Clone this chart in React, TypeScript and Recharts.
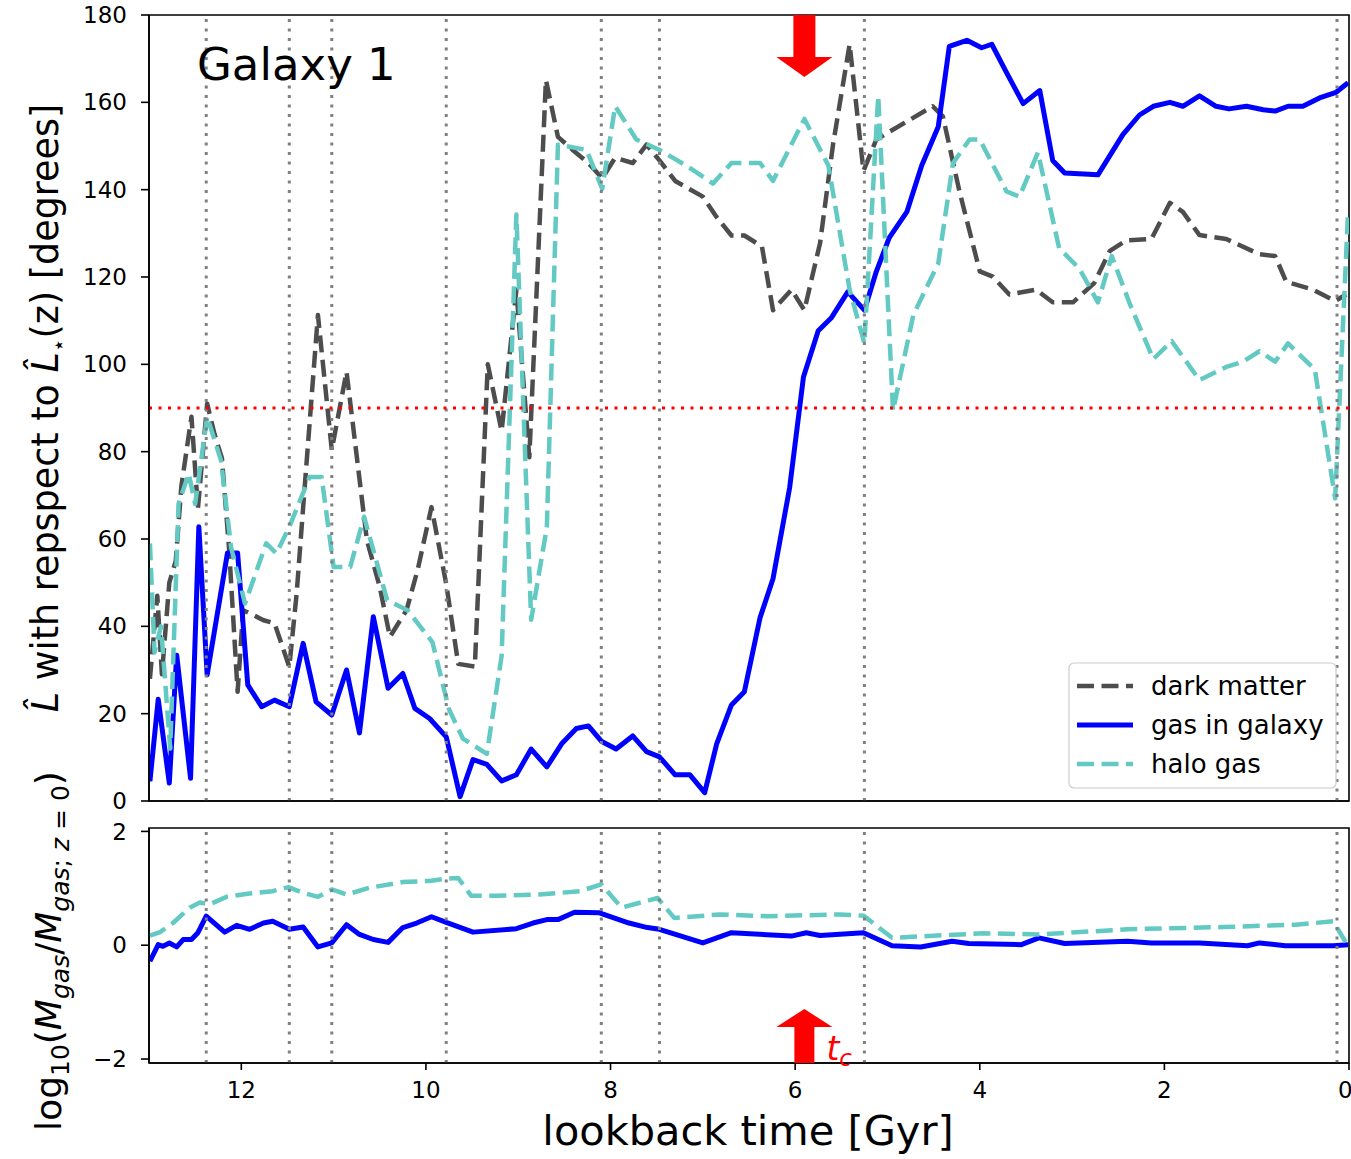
import React from "react";
import {
  LineChart,
  Line,
  XAxis,
  YAxis,
  ReferenceLine,
  ReferenceArea,
  ReferenceDot,
} from "recharts";

const FONT = "'DejaVu Sans', sans-serif";

// lookback time [Gyr] and angle to the stellar spin [deg], one pair of arrays per component
const dmTime = [
  12.99, 12.91, 12.86, 12.78, 12.71, 12.65, 12.54, 12.47, 12.37, 12.29, 12.21, 12.13, 12.04,
  11.98, 11.91, 11.76, 11.64, 11.48, 11.4, 11.33, 11.17, 11.02, 10.86, 10.64, 10.5, 10.39,
  10.21, 10.09, 9.94, 9.78, 9.65, 9.47, 9.33, 9.18, 9.02, 8.88, 8.7, 8.57, 8.41, 8.24, 8.09,
  7.95, 7.76, 7.61, 7.47, 7.3, 7.0, 6.85, 6.69, 6.55, 6.36, 6.24, 6.04, 5.9, 5.73, 5.59, 5.41,
  5.26, 5.12, 4.79, 4.51, 4.4, 4.22, 4.0, 3.86, 3.68, 3.39, 3.21, 2.99, 2.76, 2.59, 2.41, 2.14,
  1.94, 1.8, 1.62, 1.33, 0.97, 0.8, 0.68, 0.39, 0.15, 0.03,
];
const dmAngle = [
  28, 47, 29, 50, 55, 72, 88, 67, 91, 84, 78.5, 57, 25, 43.7, 43, 41.4, 40.7, 30.7, 47.6, 67.3,
  111.3, 80.4, 98.3, 59.8, 49, 37.6, 43.7, 52.9, 67.3, 49.7, 31.4, 30.8, 100, 84.7, 117.1, 78.7,
  165.1, 152.1, 149.1, 146.1, 142.6, 147.3, 146.1, 150.3, 146.7, 142, 138.4, 133.7, 129.5, 129.5,
  127, 112.4, 117.1, 112.4, 127.8, 150.3, 173.3, 144.3, 151.5, 155.6, 159.1, 156.8, 139.6, 121.3,
  120.1, 116, 117.1, 114.2, 114.2, 118.6, 126, 128.4, 128.7, 137, 134.9, 129.6, 128.7, 125.2,
  124.8, 118.9, 117.1, 114.5, 116,
];

const gasTime = [
  12.99, 12.9, 12.78, 12.7, 12.55, 12.46, 12.37, 12.15, 12.04, 11.93, 11.78, 11.64, 11.48, 11.33,
  11.19, 11.02, 10.86, 10.72, 10.57, 10.41, 10.25, 10.12, 9.96, 9.78, 9.63, 9.49, 9.34, 9.18,
  9.02, 8.86, 8.69, 8.53, 8.37, 8.24, 8.1, 7.94, 7.76, 7.61, 7.47, 7.3, 7.14, 6.98, 6.85, 6.69,
  6.55, 6.38, 6.24, 6.06, 5.91, 5.75, 5.61, 5.43, 5.25, 5.12, 4.98, 4.79, 4.63, 4.45, 4.33, 4.14,
  3.98, 3.87, 3.71, 3.53, 3.35, 3.21, 3.08, 2.72, 2.45, 2.27, 2.12, 1.94, 1.8, 1.62, 1.44, 1.3,
  1.11, 0.93, 0.8, 0.66, 0.5, 0.32, 0.14, 0.01,
];
const gasAngle = [
  4.5, 23.3, 4.1, 33.4, 5.2, 62.8, 28.9, 56.8, 56.8, 26.6, 21.6, 23.1, 21.6, 36.1, 22.7, 19.7,
  30, 15.6, 42.2, 25.8, 29.2, 21.2, 18.9, 14.7, 1, 9.5, 8.4, 4.6, 6, 11.9, 7.8, 13.1, 16.6, 17.2,
  13.7, 11.9, 14.9, 11.3, 10.1, 6, 6, 1.9, 13.1, 22, 25, 42, 50.9, 71.7, 97.1, 107.7, 110.6,
  116.6, 112.4, 121.3, 129, 134.9, 145.5, 154.4, 172.8, 174.2, 172.5, 173.3, 166.8, 159.7, 162.7,
  146.7, 143.8, 143.4, 152.6, 157.1, 159.1, 160, 159.1, 161.5, 159.1, 158.5, 159.1, 158.3, 158,
  159.1, 159.1, 161, 162.3, 164.5,
];

const haloTime = [
  12.99, 12.94, 12.87, 12.77, 12.68, 12.57, 12.5, 12.37, 12.22, 12.11, 11.96, 11.73, 11.62,
  11.48, 11.26, 11.13, 11.0, 10.82, 10.67, 10.42, 10.2, 9.93, 9.75, 9.6, 9.34, 9.18, 9.02, 8.86,
  8.69, 8.57, 8.26, 8.09, 7.95, 7.72, 7.47, 7.18, 6.89, 6.69, 6.38, 6.24, 5.9, 5.64, 5.41, 5.25,
  5.1, 4.94, 4.72, 4.45, 4.29, 4.11, 4.0, 3.71, 3.57, 3.37, 3.14, 2.92, 2.72, 2.57, 2.37, 2.12,
  1.92, 1.62, 1.33, 1.15, 0.97, 0.8, 0.66, 0.37, 0.15, 0.01,
];
const haloAngle = [
  59, 34, 40, 12, 68, 75, 68, 88, 78, 58, 45.2, 59, 56.7, 62.8, 74.2, 74.2, 53.6, 53.6, 65.1, 46,
  43.7, 36.4, 21, 14.3, 10.8, 33.2, 134.3, 41.5, 62.7, 150.3, 149.1, 140.2, 159.1, 151.5, 149.1,
  145.5, 141.4, 146.1, 146.1, 142, 156.2, 145.5, 117.1, 104.8, 161.5, 89.4, 111.3, 123.1, 146.1,
  151.5, 151.5, 139.6, 138.4, 148.5, 126.6, 121.9, 114.2, 124.8, 113.6, 101.2, 105.3, 96.4, 99.4,
  100.6, 103, 100.6, 104.8, 98.8, 69.3, 134.9,
];

// log10 of gas mass relative to z = 0
const massGasTime = [
  12.99, 12.9, 12.85, 12.78, 12.7, 12.63, 12.54, 12.47, 12.38, 12.18, 12.05, 11.91, 11.76, 11.66,
  11.48, 11.33, 11.17, 11.02, 10.86, 10.72, 10.57, 10.41, 10.25, 10.1, 9.94, 9.78, 9.49, 9.02,
  8.84, 8.69, 8.57, 8.39, 8.12, 7.8, 7.6, 7.47, 7.0, 6.69, 6.04, 5.88, 5.73, 5.26, 4.95, 4.64,
  4.3, 4.12, 3.55, 3.36, 3.08, 2.4, 2.14, 1.62, 1.1, 0.97, 0.69, 0.17, 0.01,
];
const massGasLog = [
  -0.28, 0.01, -0.02, 0.04, -0.03, 0.1, 0.1, 0.22, 0.51, 0.23, 0.35, 0.28, 0.39, 0.42, 0.28, 0.32,
  -0.03, 0.04, 0.36, 0.19, 0.1, 0.05, 0.31, 0.39, 0.5, 0.4, 0.23, 0.29, 0.39, 0.45, 0.45, 0.58,
  0.57, 0.39, 0.31, 0.28, 0.04, 0.22, 0.16, 0.22, 0.17, 0.22, -0.01, -0.03, 0.07, 0.03, 0.01, 0.13,
  0.03, 0.07, 0.04, 0.04, -0.01, 0.04, -0.01, -0.01, 0.01,
];
const massHaloTime = [
  12.99, 12.88, 12.74, 12.56, 12.45, 12.34, 12.16, 11.91, 11.66, 11.49, 11.33, 11.17, 11.02,
  10.86, 10.61, 10.25, 9.96, 9.78, 9.65, 9.51, 9.24, 8.77, 8.33, 8.1, 7.88, 7.49, 7.31, 6.82,
  6.3, 5.52, 5.26, 4.95, 3.96, 3.34, 2.4, 1.36, 0.58, 0.17, 0.01,
];
const massHaloLog = [
  0.17, 0.23, 0.39, 0.66, 0.75, 0.72, 0.85, 0.91, 0.95, 1.02, 0.92, 0.85, 0.98, 0.89, 1.01, 1.11,
  1.13, 1.17, 1.18, 0.87, 0.87, 0.89, 0.95, 1.07, 0.66, 0.83, 0.48, 0.54, 0.51, 0.54, 0.52, 0.13,
  0.21, 0.19, 0.28, 0.32, 0.36, 0.42, -0.02,
];

const mergerTimes = [12.38, 11.48, 11.02, 9.78, 8.1, 7.47, 5.25, 0.13];
const tCross = 5.9;
const timeTicks = [12, 10, 8, 6, 4, 2, 0];
const angleTicks = [0, 20, 40, 60, 80, 100, 120, 140, 160, 180];
const massTicks = [-2, 0, 2];

const series = [
  { name: "dark matter", color: "#4d4d4d", dash: "17 7.5", width: 4.5 },
  { name: "gas in galaxy", color: "#0000ff", dash: undefined, width: 5 },
  { name: "halo gas", color: "#62c9c3", dash: "17 7.5", width: 4.5 },
];

const zip = (t: number[], v: number[]) => t.map((x, i) => ({ t: x, v: v[i] }));

const axisStroke = { stroke: "#000", strokeWidth: 1.6 };
const tickFont = { fontSize: 23, fill: "#000", fontFamily: FONT };

const DownArrow = (p: any) => {
  const { cx, cy } = p;
  return (
    <path
      d={`M${cx - 11},${cy} L${cx + 11},${cy} L${cx + 11},${cy + 42} L${cx + 28},${cy + 42} L${cx},${cy + 62} L${cx - 28},${cy + 42} L${cx - 11},${cy + 42} Z`}
      fill="#ff0000"
    />
  );
};

const UpArrow = (p: any) => {
  const { cx, cy } = p;
  return (
    <g>
      <path
        d={`M${cx - 10},${cy} L${cx + 10},${cy} L${cx + 10},${cy - 36} L${cx + 28},${cy - 36} L${cx},${cy - 54} L${cx - 28},${cy - 36} L${cx - 10},${cy - 36} Z`}
        fill="#ff0000"
      />
      <text x={cx + 22} y={cy - 3} fill="#ff0000" fontFamily={FONT} fontStyle="italic" fontSize={33}>
        t
        <tspan fontSize={23} dy={6}>
          c
        </tspan>
      </text>
    </g>
  );
};

const mergerLines = (prefix: string) =>
  mergerTimes.map((t) => (
    <ReferenceLine
      key={prefix + t}
      x={t}
      stroke="#808080"
      strokeWidth={3}
      strokeDasharray="3 6.5"
    />
  ));

const minus = (v: number) => (v < 0 ? `\u2212${Math.abs(v)}` : `${v}`);

export default function App() {
  const [dm, gas, halo] = series;
  return (
    <div style={{ position: "absolute", left: 0, top: 0, width: 1351, height: 1159, background: "#fff" }}>
      <div style={{ position: "absolute", left: 0, top: 0 }}>
        <LineChart width={1351} height={820} margin={{ top: 15, right: 2, left: 0, bottom: 0 }}>
          <XAxis
            dataKey="t"
            type="number"
            domain={[0, 13]}
            reversed
            ticks={timeTicks}
            tick={false}
            tickSize={8}
            height={19}
            axisLine={axisStroke}
            tickLine={axisStroke}
            allowDataOverflow
          />
          <YAxis
            type="number"
            domain={[0, 180]}
            ticks={angleTicks}
            width={149}
            tickSize={8}
            tickMargin={14}
            tick={tickFont}
            axisLine={axisStroke}
            tickLine={axisStroke}
            allowDataOverflow
          />
          <Line data={zip(dmTime, dmAngle)} dataKey="v" stroke={dm.color} strokeWidth={dm.width} strokeDasharray={dm.dash} strokeLinejoin="round" dot={false} activeDot={false} isAnimationActive={false} />
          <Line data={zip(gasTime, gasAngle)} dataKey="v" stroke={gas.color} strokeWidth={gas.width} strokeLinejoin="round" dot={false} activeDot={false} isAnimationActive={false} />
          <Line data={zip(haloTime, haloAngle)} dataKey="v" stroke={halo.color} strokeWidth={halo.width} strokeDasharray={halo.dash} strokeLinejoin="round" dot={false} activeDot={false} isAnimationActive={false} />
          {mergerLines("top")}
          <ReferenceLine y={90} stroke="#ff0000" strokeWidth={3} strokeDasharray="3 6.5" />
          <ReferenceDot x={tCross} y={180} r={1} shape={DownArrow} />
          <ReferenceArea x1={13} x2={0} y1={0} y2={180} fill="none" stroke="#000" strokeWidth={1.6} />
        </LineChart>
      </div>

      <div style={{ position: "absolute", left: 0, top: 810 }}>
        <LineChart width={1351} height={349} margin={{ top: 18, right: 2, left: 0, bottom: 0 }}>
          <XAxis
            dataKey="t"
            type="number"
            domain={[0, 13]}
            reversed
            ticks={timeTicks}
            tick={tickFont}
            tickSize={7}
            tickMargin={12}
            height={96}
            axisLine={axisStroke}
            tickLine={axisStroke}
            allowDataOverflow
          />
          <YAxis
            type="number"
            domain={[-2.07, 2.06]}
            ticks={massTicks}
            tickFormatter={minus}
            width={149}
            tickSize={8}
            tickMargin={14}
            tick={tickFont}
            axisLine={axisStroke}
            tickLine={axisStroke}
            allowDataOverflow
          />
          <Line data={zip(massGasTime, massGasLog)} dataKey="v" stroke={gas.color} strokeWidth={gas.width} strokeLinejoin="round" dot={false} activeDot={false} isAnimationActive={false} />
          <Line data={zip(massHaloTime, massHaloLog)} dataKey="v" stroke={halo.color} strokeWidth={halo.width} strokeDasharray={halo.dash} strokeLinejoin="round" dot={false} activeDot={false} isAnimationActive={false} />
          {mergerLines("bottom")}
          <ReferenceDot x={tCross} y={-2.07} r={1} shape={UpArrow} />
          <ReferenceArea x1={13} x2={0} y1={-2.07} y2={2.06} fill="none" stroke="#000" strokeWidth={1.6} />
        </LineChart>
      </div>

      <svg
        width={1351}
        height={1159}
        style={{ position: "absolute", left: 0, top: 0, pointerEvents: "none" }}
        fontFamily={FONT}
      >
        <text x={197} y={80} fontSize={45} fill="#000">
          Galaxy 1
        </text>

        <text transform="translate(58,408) rotate(-90)" textAnchor="middle" fontSize={36.5} fill="#000">
          <tspan fontStyle="italic">L&#770;</tspan> with repspect to <tspan fontStyle="italic">L&#770;</tspan>
          <tspan fontSize={22} dy={8}>⋆</tspan>
          <tspan dy={-8}>(z) [degrees]</tspan>
        </text>

        <text transform="translate(61,951) rotate(-90)" textAnchor="middle" fontSize={36} fill="#000">
          log<tspan fontSize={25} dy={8}>10</tspan>
          <tspan dy={-8}>(</tspan>
          <tspan fontStyle="italic">M</tspan>
          <tspan fontSize={25} dy={8} fontStyle="italic">gas</tspan>
          <tspan dy={-8}>/</tspan>
          <tspan fontStyle="italic">M</tspan>
          <tspan fontSize={25} dy={8}>
            <tspan fontStyle="italic">gas</tspan>; <tspan fontStyle="italic">z</tspan> = 0
          </tspan>
          <tspan dy={-8}>)</tspan>
        </text>

        <text x={748} y={1145} textAnchor="middle" fontSize={41.5} fill="#000">
          lookback time [Gyr]
        </text>

        <rect x={1069} y={663} width={267} height={125} rx={5} fill="#ffffff" fillOpacity={0.8} stroke="#cccccc" strokeWidth={1.2} />
        {series.map((s, i) => {
          const y = 686 + i * 39;
          return (
            <g key={s.name}>
              <line x1={1077} x2={1133} y1={y} y2={y} stroke={s.color} strokeWidth={s.width} strokeDasharray={s.dash} />
              <text x={1151} y={y + 9} fontSize={26} fill="#000">
                {s.name}
              </text>
            </g>
          );
        })}
      </svg>
    </div>
  );
}
